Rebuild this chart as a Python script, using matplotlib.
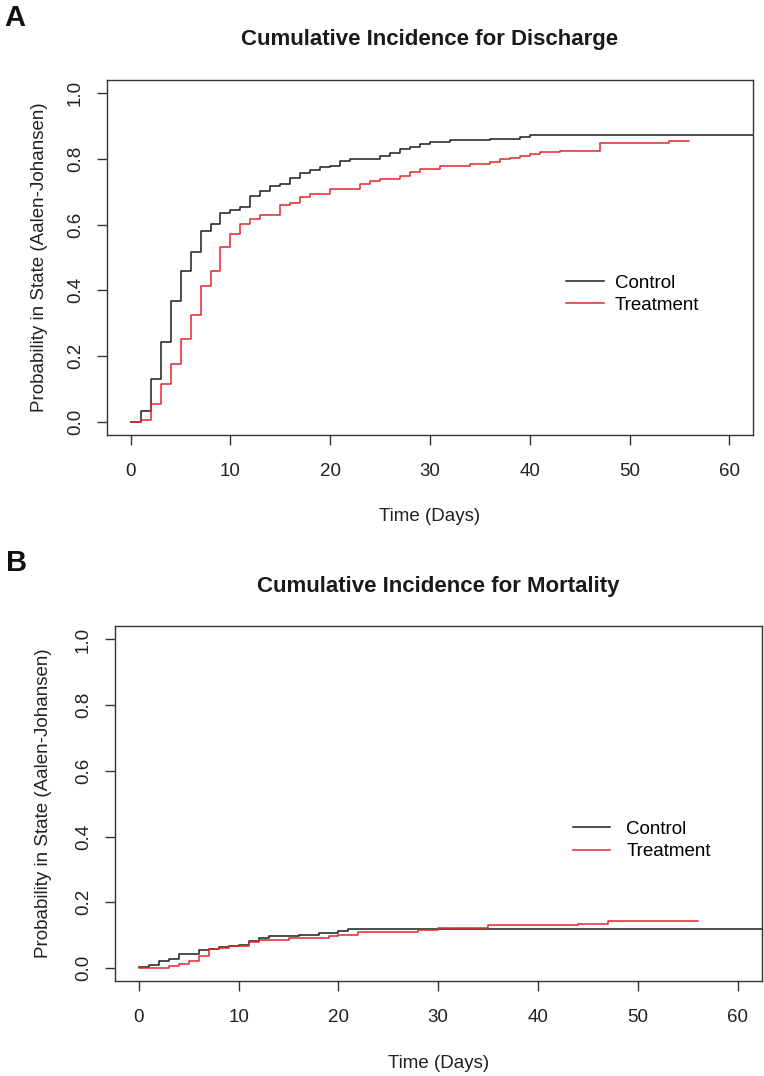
import matplotlib
matplotlib.use("Agg")
import matplotlib.pyplot as plt

plt.rcParams['font.family'] = ['Liberation Sans', 'DejaVu Sans']

# (days, probability)
discharge_ctrl_t = [0, 1, 2, 3, 4, 5, 6, 7, 8, 9, 10, 11, 12, 13, 14, 15, 16, 17, 18, 19, 20,
                    21, 22, 25, 26, 27, 28, 29, 30, 32, 36, 39, 40, 63]
discharge_ctrl_p = [0.0, 0.033, 0.129, 0.241, 0.368, 0.458, 0.517, 0.580, 0.601, 0.635, 0.645,
                    0.652, 0.687, 0.703, 0.718, 0.724, 0.742, 0.756, 0.767, 0.774, 0.779, 0.793,
                    0.799, 0.809, 0.817, 0.829, 0.837, 0.845, 0.851, 0.856, 0.862, 0.866, 0.873, 0.873]

discharge_trt_t = [0, 1, 2, 3, 4, 5, 6, 7, 8, 9, 10, 11, 12, 13, 15, 16, 17, 18, 20, 23, 24, 25,
                   27, 28, 29, 31, 34, 36, 37, 38, 39, 40, 41, 43, 47, 54, 56]
discharge_trt_p = [0.0, 0.006, 0.054, 0.113, 0.176, 0.251, 0.325, 0.414, 0.458, 0.532, 0.570,
                   0.602, 0.617, 0.629, 0.658, 0.667, 0.684, 0.694, 0.708, 0.724, 0.733, 0.738,
                   0.749, 0.761, 0.770, 0.777, 0.783, 0.789, 0.799, 0.804, 0.809, 0.815, 0.822,
                   0.825, 0.848, 0.853, 0.853]

mortality_ctrl_t = [0, 1, 2, 3, 4, 6, 7, 8, 9, 10, 11, 12, 13, 16, 18, 20, 21, 63]
mortality_ctrl_p = [0.003, 0.010, 0.020, 0.027, 0.041, 0.054, 0.058, 0.063, 0.068, 0.071, 0.081,
                    0.090, 0.096, 0.101, 0.107, 0.111, 0.117, 0.117]

mortality_trt_t = [0, 3, 4, 5, 6, 7, 8, 9, 11, 12, 15, 19, 20, 22, 28, 30, 35, 44, 47, 56]
mortality_trt_p = [0.0, 0.007, 0.013, 0.020, 0.035, 0.056, 0.061, 0.066, 0.078, 0.086, 0.091,
                   0.096, 0.101, 0.108, 0.114, 0.122, 0.129, 0.134, 0.144, 0.144]

groups = ["Control", "Treatment"]
colors = ["#1c1c1c", "#e3262b"]
titles = ["Cumulative Incidence for Discharge", "Cumulative Incidence for Mortality"]
letters = ["A", "B"]
xticks = [0, 10, 20, 30, 40, 50, 60]
yticks = [0.0, 0.2, 0.4, 0.6, 0.8, 1.0]
yticklabels = ["0.0", "0.2", "0.4", "0.6", "0.8", "1.0"]

fig = plt.figure(figsize=(7.64, 10.76), dpi=100)
axA = fig.add_axes([0.1397, 0.5960, 0.8463, 0.3296])
axB = fig.add_axes([0.1505, 0.0883, 0.8463, 0.3296])

panels = [
    (axA, [(discharge_ctrl_t, discharge_ctrl_p), (discharge_trt_t, discharge_trt_p)]),
    (axB, [(mortality_ctrl_t, mortality_ctrl_p), (mortality_trt_t, mortality_trt_p)]),
]
# per panel tweaks: ylabel x, legend anchor, legend text pad
ylab_x = [-0.104, -0.110]
leg_anchor = [(0.7105, 0.452), (0.708, 0.452)]
leg_pad = [0.6, 0.85]
letter_pos = [(0.006, 0.983), (0.008, 0.477)]

spine_col = "#333333"
fs = 13.5
for i, (ax, curves) in enumerate(panels):
    for (t, p), name, c in zip(curves, groups, colors):
        ax.step(t, p, where="post", color=c, lw=1.1, label=name)
    ax.set_xlim(-2.4, 62.4)
    ax.set_ylim(-0.04, 1.04)
    ax.set_xticks(xticks)
    ax.set_yticks(yticks)
    ax.set_yticklabels(yticklabels, rotation=90, va="center")
    ax.tick_params(length=7.5, width=1.0, color=spine_col, labelsize=fs,
                   labelcolor="#222222")
    ax.tick_params(axis="x", pad=13)
    ax.tick_params(axis="y", pad=9)
    for s in ax.spines.values():
        s.set_color(spine_col)
        s.set_linewidth(1.0)
    ax.set_title(titles[i], fontsize=16, fontweight="bold", color="#1a1a1a", pad=25)
    ax.set_xlabel("Time (Days)", fontsize=fs, color="#222222")
    ax.set_ylabel("Probability in State (Aalen-Johansen)", fontsize=fs, color="#222222")
    ax.xaxis.set_label_coords(0.5, -0.232)
    ax.xaxis.label.set_va("center")
    ax.yaxis.set_label_coords(ylab_x[i], 0.5)
    ax.yaxis.label.set_va("center")
    ax.legend(loc="upper left", bbox_to_anchor=leg_anchor[i], frameon=False,
              fontsize=fs, handlelength=2.0, handletextpad=leg_pad[i], labelspacing=0.28,
              borderpad=0, borderaxespad=0)
    fig.text(letter_pos[i][0], letter_pos[i][1], letters[i], fontsize=21, fontweight="bold",
             va="center", color="#111111")

fig.savefig("out.png", dpi=100)
